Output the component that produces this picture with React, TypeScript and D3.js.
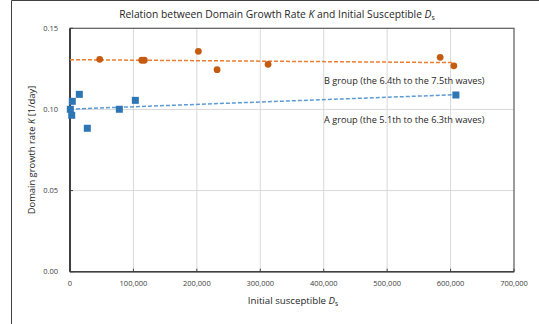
import React from "react";
import * as d3 from "d3";

// Group A (5.1th to 6.3th waves): initial susceptible vs. domain growth rate
const groupAX = [500, 2700, 3600, 14700, 27300, 77800, 103000, 608400];
const groupAY = [0.1001, 0.0964, 0.105, 0.1093, 0.0884, 0.1001, 0.1056, 0.1089];

// Group B (6.4th to 7.5th waves)
const groupBX = [46800, 113100, 117200, 202400, 231900, 312300, 583600, 605200];
const groupBY = [0.1309, 0.1303, 0.1303, 0.1358, 0.1245, 0.1278, 0.1321, 0.1269];

const xTicks = [0, 100000, 200000, 300000, 400000, 500000, 600000, 700000];
const yTicks = [0, 0.05, 0.1, 0.15];

const W = 539;
const H = 324;
const plot = { left: 70, right: 514, top: 28.3, bottom: 271.7 };
const FONT = "'Open Sans', 'Noto Sans', sans-serif";

function linearFit(xs: number[], ys: number[]) {
  const mx = d3.mean(xs)!;
  const my = d3.mean(ys)!;
  let sxy = 0;
  let sxx = 0;
  xs.forEach((x, i) => {
    sxy += (x - mx) * (ys[i] - my);
    sxx += (x - mx) * (x - mx);
  });
  const slope = sxy / sxx;
  const intercept = my - slope * mx;
  return (x: number) => intercept + slope * x;
}

export default function App() {
  const x = d3.scaleLinear().domain([0, 700000]).range([plot.left, plot.right]);
  const y = d3.scaleLinear().domain([0, 0.15]).range([plot.bottom, plot.top]);
  const fmtX = d3.format(",");
  const fmtY = d3.format(".2f");

  const trend = d3
    .line<[number, number]>()
    .x((d) => x(d[0]))
    .y((d) => y(d[1]));
  const fitA = linearFit(groupAX, groupAY);
  const fitB = linearFit(groupBX, groupBY);
  const maxA = d3.max(groupAX)!;
  const maxB = d3.max(groupBX)!;
  const trendA = trend([
    [0, fitA(0)],
    [maxA, fitA(maxA)],
  ]);
  const trendB = trend([
    [0, fitB(0)],
    [maxB, fitB(maxB)],
  ]);

  const sq = 7;

  return (
    <svg
      width={W}
      height={H}
      style={{ position: "absolute", left: 0, top: 0, background: "#fff" }}
      fontFamily={FONT}
    >
      {/* chart frame */}
      <line x1={11.5} y1={0.5} x2={W} y2={0.5} stroke="#404040" strokeWidth={1} />
      <line x1={11.5} y1={0.5} x2={11.5} y2={H} stroke="#404040" strokeWidth={1} />

      {/* title */}
      <text x={277} y={18} textAnchor="middle" fontSize={10.3} fill="#262626">
        Relation between Domain Growth Rate <tspan fontStyle="italic">K</tspan> and Initial
        Susceptible <tspan fontStyle="italic">D</tspan>
        <tspan fontSize={7} dy={2}>s</tspan>
      </text>

      {/* gridlines */}
      {xTicks.slice(1, -1).map((t) => (
        <line key={"gx" + t} x1={x(t)} x2={x(t)} y1={plot.top} y2={plot.bottom} stroke="#d9d9d9" strokeWidth={1} />
      ))}
      {yTicks.slice(1, -1).map((t) => (
        <line key={"gy" + t} x1={plot.left} x2={plot.right} y1={y(t)} y2={y(t)} stroke="#d9d9d9" strokeWidth={1} />
      ))}

      {/* plot area border */}
      <rect
        x={plot.left}
        y={plot.top}
        width={plot.right - plot.left}
        height={plot.bottom - plot.top}
        fill="none"
        stroke="#595959"
        strokeWidth={1.2}
      />
      <line x1={plot.left} x2={plot.left} y1={plot.top} y2={plot.bottom} stroke="#404040" strokeWidth={2} />
      <line x1={plot.left} x2={plot.right} y1={plot.bottom} y2={plot.bottom} stroke="#404040" strokeWidth={1.5} />

      {/* ticks */}
      {xTicks.map((t) => (
        <line key={"tx" + t} x1={x(t)} x2={x(t)} y1={plot.bottom} y2={plot.bottom - 3} stroke="#404040" />
      ))}
      {yTicks.map((t) => (
        <line key={"ty" + t} x1={plot.left} x2={plot.left + 3} y1={y(t)} y2={y(t)} stroke="#404040" />
      ))}

      {/* tick labels */}
      {xTicks.map((t) => (
        <text key={"lx" + t} x={x(t)} y={286} textAnchor="middle" fontSize={7.5} fill="#404040">
          {fmtX(t)}
        </text>
      ))}
      {yTicks.map((t) => (
        <text key={"ly" + t} x={58} y={y(t) + 2.7} textAnchor="end" fontSize={7.5} fill="#404040">
          {fmtY(t)}
        </text>
      ))}

      {/* axis titles */}
      <text x={293} y={304} textAnchor="middle" fontSize={9.7} fill="#262626">
        Initial susceptible <tspan fontStyle="italic">D</tspan>
        <tspan fontSize={6.5} dy={2}>s</tspan>
      </text>
      <text
        transform={`translate(35,150) rotate(-90)`}
        textAnchor="middle"
        fontSize={9.4}
        fill="#262626"
      >
        Domain growth rate <tspan fontStyle="italic">K</tspan> [1/day]
      </text>

      {/* trend lines */}
      <path d={trendB ?? ""} fill="none" stroke="#ED7D31" strokeWidth={1.5} strokeDasharray="4,2" />
      <path d={trendA ?? ""} fill="none" stroke="#5B9BD5" strokeWidth={1.5} strokeDasharray="4,2" />

      {/* group B points */}
      {groupBX.map((v, i) => (
        <circle key={"b" + i} cx={x(v)} cy={y(groupBY[i])} r={3.4} fill="#C55A11" />
      ))}
      {/* group A points */}
      {groupAX.map((v, i) => (
        <rect key={"a" + i} x={x(v) - sq / 2} y={y(groupAY[i]) - sq / 2} width={sq} height={sq} fill="#2E75B6" />
      ))}

      {/* series labels */}
      <text x={324} y={83.5} fontSize={9.2} fill="#262626">
        B group (the 6.4th to the 7.5th waves)
      </text>
      <text x={324} y={122.5} fontSize={9.2} fill="#262626">
        A group (the 5.1th to the 6.3th waves)
      </text>
    </svg>
  );
}
